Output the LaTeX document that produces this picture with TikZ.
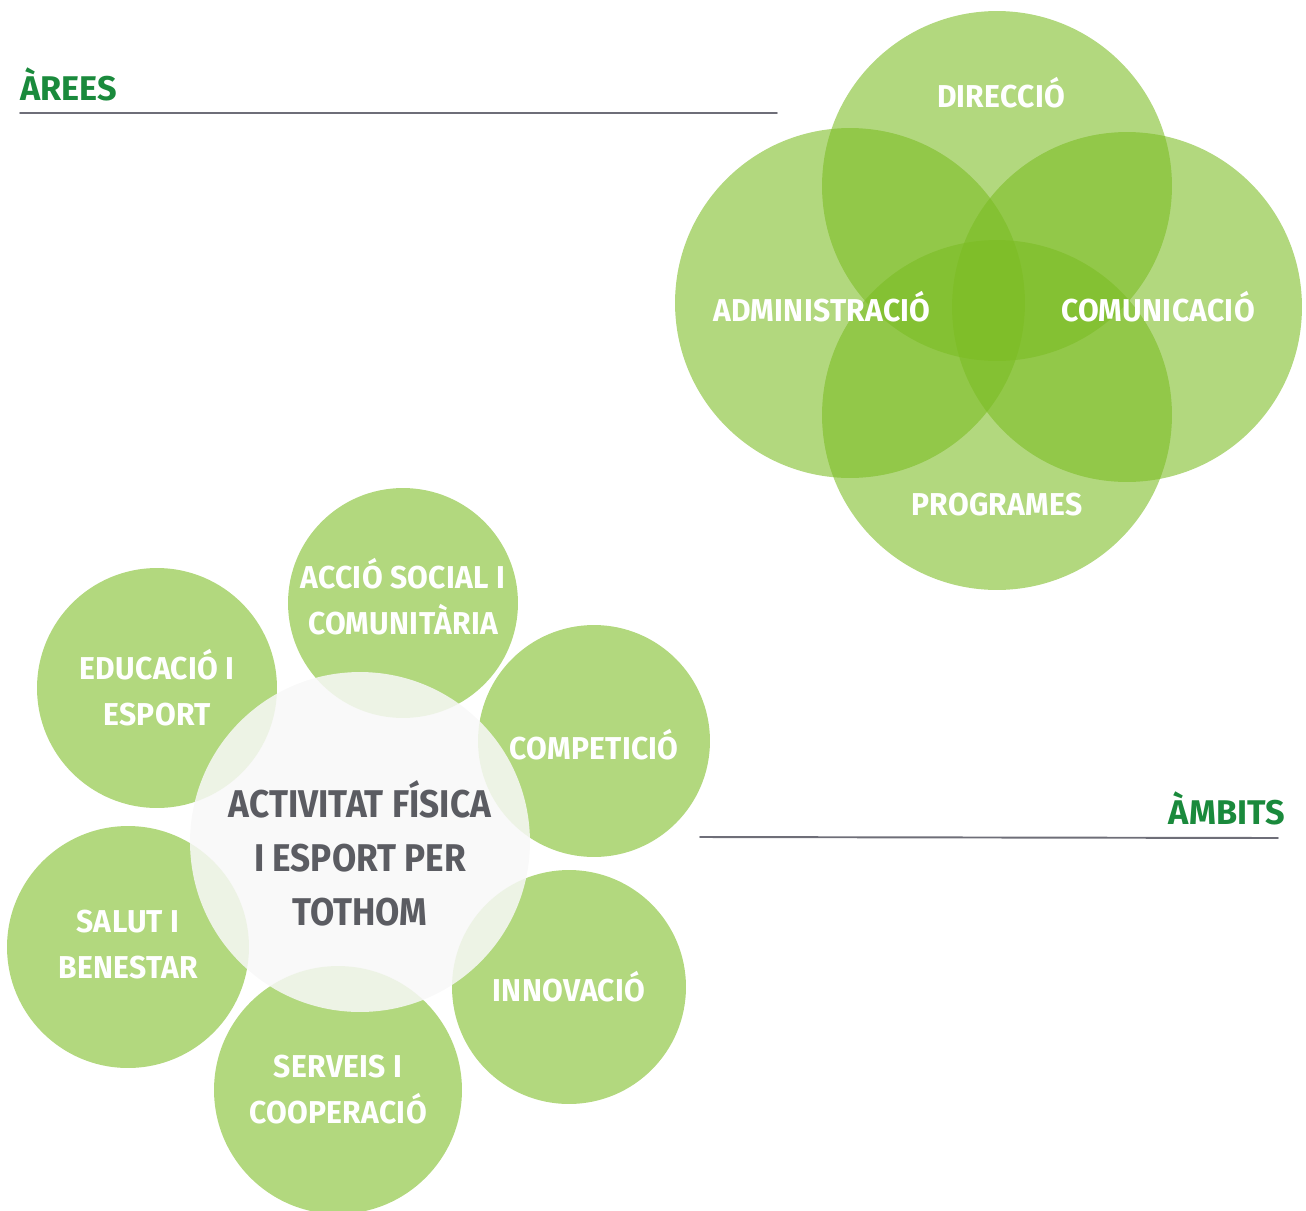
\documentclass[tikz,border=0pt]{standalone}
\usepackage{fontspec}
\setmainfont{Fira Sans}[FakeStretch=0.95, LetterSpace=1]
\newfontfamily\centrefont{Fira Sans}[FakeStretch=0.91]
\newfontfamily\titolfont{Fira Sans}
\definecolor{verd}{HTML}{7BBC23}
\definecolor{verdclar}{HTML}{B2D87E}
\definecolor{verdfosc}{HTML}{1A8A3C}
\definecolor{gris}{HTML}{5B5C62}
\definecolor{linia}{HTML}{6E6E78}
\definecolor{blanc}{HTML}{F8F8F8}
\begin{document}
\begin{tikzpicture}[x=0.02cm, y=-0.02cm, line join=round, line cap=round,
		titol/.style={text=verdfosc, font=\titolfont\fontsize{19.5}{22}\selectfont\bfseries, inner sep=0pt},
		regla/.style={draw=linia, line width=1.1pt},
		etiq/.style={text=white, font=\fontsize{18}{26.2}\selectfont\bfseries, align=center, inner sep=0pt},
		petal/.style={circle, fill=verdclar, inner sep=0pt},
		centre/.style={circle, fill=blanc, fill opacity=0.85, inner sep=0pt},
		tcentre/.style={text=gris, align=center, font=\centrefont\fontsize{22}{30.7}\selectfont\bfseries, inner sep=0pt}
		]
		\useasboundingbox (0,0) rectangle (1306,1211);
		% àrees
		\node[titol, anchor=base west] (arees) at (20,100) {ÀREES};
		\coordinate (a1) at (20,113); \coordinate (a2) at (777,113);
		\draw[regla] (a1)--(a2);
		\begin{scope}[fill opacity=0.585]
			\fill[verd] (997,186) circle (3.5cm);
			\fill[verd] (850,303) circle (3.5cm);
			\fill[verd] (1127,307) circle (3.5cm);
			\fill[verd] (997,415) circle (3.5cm);
		\end{scope}
		\node[etiq, anchor=base] (dir) at (1001,107) {DIRECCIÓ};
		\node[etiq, anchor=base] (adm) at (822,321) {ADMINISTRACIÓ};
		\node[etiq, anchor=base] (com) at (1158,321) {COMUNICACIÓ};
		\node[etiq, anchor=base] (prog) at (997,515) {PROGRAMES};
		% àmbits
		\node[titol, anchor=base east] (ambits) at (1285,824) {ÀMBITS};
		\coordinate (b1) at (700,837); \coordinate (b2) at (1278,838);
		\draw[regla] (b1)--(b2);
		\node[petal, minimum size=4.6cm] (social) at (403,603) {};
		\node[petal, minimum size=4.8cm] (educ) at (157,688) {};
		\node[petal, minimum size=4.64cm] (compet) at (594,741) {};
		\node[petal, minimum size=4.84cm] (salut) at (128,947) {};
		\node[petal, minimum size=4.68cm] (innov) at (569,987) {};
		\node[petal, minimum size=4.96cm] (serveis) at (338,1090) {};
		\node[centre, minimum size=6.8cm] (afe) at (360,842) {};
		\node[tcentre] (tafe) at ([yshift=-0.22cm]afe.center) {ACTIVITAT FÍSICA\\I ESPORT PER\\TOTHOM};
		%\draw[red] (social.center) circle (2pt);
		\node[etiq] (tsocial) at ([yshift=0.12cm]social.center) {ACCIÓ SOCIAL I\\COMUNITÀRIA};
		\node[etiq] (teduc) at (educ.center) {EDUCACIÓ I\\ESPORT};
		\node[etiq] (tcompet) at ([yshift=-0.08cm]compet.center) {COMPETICIÓ};
		\node[etiq] (tsalut) at ([yshift=0.04cm]salut.center) {SALUT I\\BENESTAR};
		\node[etiq] (tinnov) at (innov.center) {INNOVACIÓ};
		\node[etiq] (tserveis) at (serveis.center) {SERVEIS I\\COOPERACIÓ};
\end{tikzpicture}
\end{document}
